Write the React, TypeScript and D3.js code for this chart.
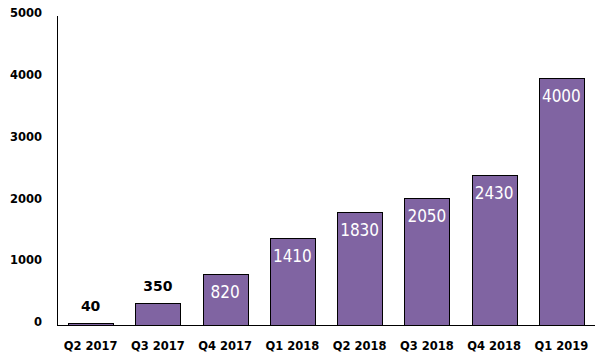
import React, { useEffect, useRef } from "react";
import * as d3 from "d3";

const quarters = ["Q2 2017", "Q3 2017", "Q4 2017", "Q1 2018", "Q2 2018", "Q3 2018", "Q4 2018", "Q1 2019"];
const values = [40, 350, 820, 1410, 1830, 2050, 2430, 4000];
const yTicks = [0, 1000, 2000, 3000, 4000, 5000];

function App() {
  const svgRef = useRef<SVGSVGElement | null>(null);

  useEffect(() => {
    const width = 610;
    const height = 364;
    const margin = { top: 16, right: 15, bottom: 39, left: 57 };
    const innerW = width - margin.left - margin.right;
    const innerH = height - margin.top - margin.bottom;

    const svg = d3.select(svgRef.current);
    svg.selectAll("*").remove();
    const g = svg.append("g").attr("transform", `translate(${margin.left},${margin.top})`);

    const x = d3.scaleBand().domain(quarters).range([0, innerW]).paddingInner(0.33).paddingOuter(0.165);
    const y = d3.scaleLinear().domain([0, 5000]).range([innerH, 0]);

    // y tick labels
    g.selectAll(".ytick")
      .data(yTicks)
      .join("text")
      .attr("x", -15)
      .attr("y", (d) => y(d))
      .attr("dy", "0.1em")
      .attr("text-anchor", "end")
      .attr("font-family", "DejaVu Sans")
      .attr("font-weight", "bold")
      .attr("font-size", 11.5)
      .text((d) => d);

    // bars
    g.selectAll(".bar")
      .data(values)
      .join("rect")
      .attr("x", (d, i) => Math.round(x(quarters[i])!) + 0.5)
      .attr("y", (d) => Math.round(y(d)) + 0.5)
      .attr("width", Math.round(x.bandwidth()))
      .attr("height", (d) => Math.round(innerH - y(d)))
      .attr("fill", "#8064a2")
      .attr("stroke", "#000")
      .attr("stroke-width", 1);

    // value labels
    g.selectAll(".lbl")
      .data(values)
      .join("text")
      .attr("x", (d, i) => x(quarters[i])! + x.bandwidth() / 2)
      .attr("y", (d) => (d > 500 ? y(d) + 24 : y(d) - 12))
      .attr("text-anchor", "middle")
      .attr("font-family", (d) => (d > 500 ? "DejaVu Sans Condensed" : "DejaVu Sans"))
      .attr("font-weight", (d) => (d > 500 ? "normal" : "bold"))
      .attr("font-size", (d) => (d > 500 ? 17 : 14))
      .attr("fill", (d) => (d > 500 ? "#fff" : "#000"))
      .text((d) => d);

    // x labels
    g.selectAll(".xlbl")
      .data(quarters)
      .join("text")
      .attr("x", (d) => x(d)! + x.bandwidth() / 2)
      .attr("y", innerH + 25)
      .attr("text-anchor", "middle")
      .attr("font-family", "DejaVu Sans")
      .attr("font-weight", "bold")
      .attr("font-size", 11.5)
      .text((d) => d);

    // axis lines
    g.append("line")
      .attr("x1", 0.5).attr("x2", 0.5)
      .attr("y1", 0).attr("y2", innerH)
      .attr("stroke", "#000");
    g.append("line")
      .attr("x1", 0).attr("x2", innerW)
      .attr("y1", innerH + 0.5).attr("y2", innerH + 0.5)
      .attr("stroke", "#000");
  }, []);

  return (
    <svg ref={svgRef} width={610} height={364} style={{ position: "absolute", left: 0, top: 0 }} />
  );
}

export default App;
